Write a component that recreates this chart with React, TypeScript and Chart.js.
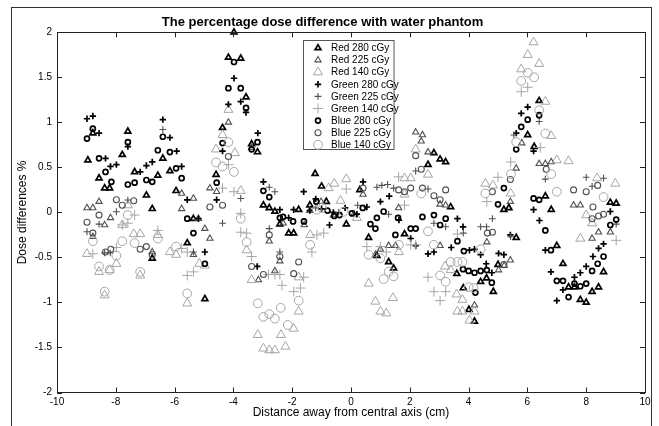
import React, { useEffect, useRef } from "react";
import { Chart, registerables } from "chart.js";
import { drawPoint } from "chart.js/helpers";

Chart.register(...registerables);

const TITLE = "The percentage dose difference with water phantom";
const X_TITLE = "Distance away from central axis (cm)";
const Y_TITLE = "Dose differences %";
const SERIES_LABELS = [
  "Red 280 cGy", "Red 225 cGy", "Red 140 cGy",
  "Green 280 cGy", "Green 225 cGy", "Green 140 cGy",
  "Blue 280 cGy", "Blue 225 cGy", "Blue 140 cGy",
];
const X_TICKS = [-10, -8, -6, -4, -2, 0, 2, 4, 6, 8, 10];
const Y_TICKS = [-2, -1.5, -1, -0.5, 0, 0.5, 1, 1.5, 2];

const red280: [number, number][] = [
  [-8.95,0.58],[-8.78,0.88],[-8.57,0.38],[-8.38,0.27],[-8.21,0.27],[-7.78,0.64],[-7.59,0.9],[-7.36,0.45],
  [-6.96,0.19],[-6.76,0.04],[-6.76,-0.51],[-6.57,0.41],[-6.4,0.6],[-6.16,0.46],[-5.95,0.24],[-5.57,-0.34],[-5.36,-0.07],
  [-4.97,-0.96],[-4.59,0.42],[-4.37,0.94],[-4.17,1.72],[-3.98,2.0],[-3.75,1.71],[-3.57,1.28],[-3.38,0.76],
  [-3.18,0.67],[-2.98,0.08],[-2.78,0.05],[-2.59,0.01],[-2.42,-0.13],[-2.12,-0.23],[-1.95,-0.23],[-1.78,0.03],
  [-1.4,0.08],[-1.22,0.43],[-1.0,0.29],[-0.84,0.12],[-0.16,-0.13],[0.3,0.25],[0.6,-0.28],[0.88,-0.48],
  [1.28,-0.55],[1.45,-0.62],[1.82,-0.24],[2.62,0.53],[2.82,0.66],[3.03,0.59],[3.22,0.56],[3.39,0.06],
  [3.6,-0.68],[3.82,-0.84],[4.01,-1.08],[4.2,-1.21],[4.41,-0.77],[4.61,-0.73],[4.84,-0.88],[5.0,-0.58],
  [5.2,0.03],[5.37,0.05],[5.62,-0.28],[6.01,0.86],[6.23,0.73],[6.4,1.24],[6.61,0.18],[6.81,0.03],
  [7.0,-0.37],[7.21,-0.57],[7.4,-0.83],[7.6,-0.83],[7.8,-0.97],[8.0,-1.0],[8.2,-0.88],[8.42,-0.83],
  [8.59,-0.66],[8.82,0.11],[9.02,0.1],
];
const red225: [number, number][] = [
  [-8.98,0.05],[-8.78,0.05],[-8.78,-0.27],[-8.57,0.12],[-8.38,-0.14],[-8.18,-0.06],[-6.76,-0.44],
  [-5.76,0.21],[-5.76,0.04],[-5.36,0.155],[-5.36,-0.47],[-5.19,-0.07],[-4.97,-0.18],[-4.8,0.27],[-4.8,-0.29],
  [-4.57,0.23],[-4.17,1.0],[-3.38,0.72],[-3.15,-0.75],[-2.78,-0.32],[-2.59,-0.65],[-2.42,-0.54],[-2.31,-0.12],
  [-1.59,-0.14],[-1.4,0.02],[-1.02,0.12],[-0.6,-0.03],[0.1,-0.02],[0.41,0.2],[0.83,-0.47],[1.0,-0.41],
  [1.28,-0.37],[1.51,-0.37],[1.62,0.05],[2.2,0.89],[2.39,0.79],[2.43,0.86],[2.62,0.67],[3.03,-0.37],
  [3.03,0.09],[3.22,0.08],[4.2,-1.03],[4.62,-0.33],[5.02,-0.64],[5.21,-0.59],[5.42,-0.53],[5.42,0.12],
  [5.62,0.49],[5.81,0.77],[6.4,0.54],[6.61,0.54],[6.81,0.56],[7.57,0.08],[7.8,0.08],[8.2,-0.29],
  [8.42,-0.22],[8.82,-0.22],
];
const red140: [number, number][] = [
  [-8.98,-0.46],[-8.57,-0.66],[-8.38,-0.92],[-8.21,-0.64],[-7.98,-0.57],[-7.78,-0.14],[-7.59,0.08],
  [-7.39,-0.24],[-7.17,-0.24],[-7.17,-0.7],[-6.57,-0.25],[-6.16,-0.44],[-5.95,-0.47],[-5.57,-1.01],
  [-5.16,-0.57],[-4.97,-0.59],[-4.59,0.7],[-4.37,0.86],[-4.17,1.14],[-3.95,0.66],[-3.75,0.24],[-3.55,-0.42],
  [-3.38,-0.75],[-3.17,-1.36],[-2.98,-1.51],[-2.78,-1.53],[-2.59,-1.53],[-2.38,-1.36],[-2.23,-1.49],
  [-1.95,-1.29],[-1.78,-1.1],[-1.78,-0.72],[-1.39,-0.25],[-0.76,0.27],[-0.57,0.32],[-0.36,0.13],[-0.16,0.37],
  [0.2,-0.06],[0.6,-0.79],[0.83,-0.99],[1.0,-1.1],[1.2,-1.12],[1.43,-0.95],[1.63,-0.44],[1.82,0.38],
  [1.82,0.2],[2.03,0.38],[2.2,0.7],[2.62,0.42],[3.2,-0.6],[3.39,-0.64],[3.59,-0.91],[3.62,-1.1],
  [3.79,-0.97],[3.79,-1.1],[4.03,-1.2],[4.2,-1.1],[4.57,0.32],[4.83,0.3],[5.43,0.21],[5.79,1.59],
  [6.01,1.75],[6.21,1.89],[6.4,1.65],[6.61,1.23],[6.81,0.85],[7.0,0.58],[7.4,0.57],[7.8,-0.29],
  [8.0,-0.03],[8.2,-0.12],[8.37,0.38],[8.99,0.32],
];
const green280: [number, number][] = [
  [-8.98,1.04],[-8.78,1.07],[-8.57,0.88],[-8.35,0.6],[-8.18,0.51],[-7.98,0.53],[-7.59,0.73],[-7.17,0.45],
  [-6.96,0.52],[-6.76,0.56],[-6.4,1.03],[-6.16,0.83],[-5.93,0.68],[-5.76,0.51],[-5.57,0.14],[-5.19,-0.07],
  [-4.97,-0.44],[-4.57,0.14],[-4.37,0.68],[-4.17,1.2],[-3.98,1.49],[-3.75,1.23],[-3.57,1.11],[-3.19,-0.6],
  [-3.17,0.88],[-2.98,0.34],[-2.42,0.03],[-2.12,-0.06],[-1.95,0.03],[-1.61,0.23],[-1.4,0.02],[-1.2,0.15],
  [-1.0,0.04],[-0.73,-0.14],[-0.6,0.0],[-0.2,0.05],[0.2,-0.02],[0.41,0.34],[0.54,0.06],[1.0,0.12],
  [1.3,0.18],[1.63,-0.085],[2.03,-0.29],[2.2,-0.37],[2.62,-0.46],[2.82,-0.44],[3.41,-0.39],[3.62,-0.07],
  [3.81,-0.16],[4.03,-0.42],[4.2,-0.41],[4.41,-0.47],[4.6,-0.57],[4.79,-0.67],[5.02,-0.455],[5.2,-0.47],
  [5.42,-0.25],[5.62,0.88],[5.79,1.1],[6.01,1.17],[6.21,0.68],[6.21,0.03],[6.41,-0.09],[6.61,-0.42],
  [6.8,-0.66],[7.0,-0.98],[7.21,-0.86],[7.6,-0.72],[7.8,-0.67],[8.0,-0.6],[8.23,-0.49],[8.42,-0.4],
  [8.59,-0.35],[8.82,0.01],
];
const green225: [number, number][] = [
  [-8.98,-0.215],[-8.57,-0.13],[-8.38,-0.45],[-8.19,-0.45],[-7.98,0.007],[-7.59,0.137],[-6.4,0.92],
  [-5.36,-0.44],[-4.37,-0.12],[-3.75,0.155],[-2.78,0.28],[-2.78,-0.18],[-2.59,0.23],[-2.42,-0.44],
  [-1.2,0.05],[-0.42,0.0],[0.225,0.08],[0.88,0.28],[1.05,0.3],[1.245,0.31],[1.28,-0.02],[1.45,0.27],
  [2.2,0.46],[2.62,0.26],[2.82,-0.12],[3.22,-0.16],[3.82,-0.23],[4.41,-0.16],[4.61,-0.16],[4.81,-0.07],
  [5.43,-0.27],[5.54,0.86],[6.4,1.01],[6.61,0.37],[8.0,0.39],[8.2,0.29],[8.59,0.38],[9.02,-0.13],
];
const green140: [number, number][] = [
  [-8.78,-0.46],[-7.98,-0.39],[-7.78,-0.14],[-7.59,-0.12],[-7.36,-0.03],[-6.57,-0.2],[-5.76,-0.4],
  [-5.57,-0.44],[-5.57,-0.7],[-5.36,-0.66],[-4.37,0.27],[-4.17,0.53],[-3.98,0.23],[-3.75,-0.01],
  [-3.75,-0.22],[-3.55,-0.23],[-3.38,-0.49],[-2.81,-0.69],[-2.59,-0.69],[-2.42,-0.69],[-2.35,-0.81],
  [-1.95,-0.88],[-1.72,-0.84],[-1.61,-0.72],[-1.33,-0.44],[-1.16,-0.25],[-0.93,-0.23],[-0.16,0.26],
  [0.54,-0.38],[1.0,-0.38],[1.2,-0.44],[1.62,0.395],[1.82,0.08],[2.03,-0.36],[2.2,-0.36],[2.62,-0.72],
  [2.82,-0.88],[3.03,-0.98],[3.22,-0.88],[3.62,-0.24],[4.62,0.12],[5.0,0.39],[5.43,0.56],[5.79,1.34],
  [6.01,1.39],[6.44,0.72],[9.02,-0.31],
];
const blue280: [number, number][] = [
  [-8.98,0.82],[-8.78,0.93],[-8.57,0.6],[-8.35,0.45],[-8.15,0.34],[-7.59,0.78],[-7.59,0.31],[-7.36,0.33],
  [-6.96,0.36],[-6.76,0.34],[-6.57,0.69],[-6.4,0.84],[-6.16,0.67],[-5.95,0.49],[-5.76,0.38],[-5.57,-0.07],
  [-5.36,-0.23],[-4.97,-0.57],[-4.57,0.33],[-4.37,0.77],[-4.17,1.38],[-3.98,1.67],[-3.75,1.38],[-3.57,1.16],
  [-3.38,0.7],[-3.18,0.78],[-2.98,0.24],[-2.78,0.17],[-2.42,-0.06],[-2.31,-0.05],[-1.97,-0.1],[-1.6,-0.1],
  [-1.18,0.12],[-0.8,0.02],[-0.57,-0.04],[-0.39,-0.03],[0.03,-0.01],[0.4,0.05],[0.66,-0.13],[0.83,-0.18],
  [0.88,-0.06],[1.11,0.01],[1.51,-0.25],[1.6,-0.06],[2.03,-0.18],[2.2,-0.18],[2.43,-0.05],[2.82,-0.03],
  [3.03,-0.14],[3.22,-0.07],[3.62,-0.32],[3.81,-0.63],[3.84,-0.43],[4.0,-0.65],[4.2,-0.67],[4.23,-0.89],
  [4.41,-0.65],[4.62,-0.64],[4.79,-0.78],[5.0,0.09],[5.2,0.27],[5.62,0.7],[5.79,0.95],[6.01,1.03],
  [6.21,0.155],[6.4,1.08],[6.4,0.14],[6.61,-0.2],[6.8,-0.42],[7.0,-0.76],[7.21,-0.76],[7.4,-0.94],
  [7.6,-0.79],[7.8,-0.82],[8.0,-0.79],[8.2,-0.65],[8.39,-0.57],[8.59,-0.49],[8.82,-0.14],[9.02,-0.08],
];
const blue225: [number, number][] = [
  [-8.98,-0.11],[-8.78,-0.23],[-8.57,-0.03],[-8.35,-0.44],[-8.17,-0.41],[-7.98,0.14],[-7.78,0.08],
  [-7.39,0.13],[-7.17,-0.41],[-6.96,-0.38],[-6.76,-0.47],[-4.8,0.06],[-4.37,0.08],[-4.17,0.62],
  [-3.38,-0.6],[-2.98,-0.69],[-2.78,-0.25],[-2.42,-0.49],[-1.95,-0.68],[-1.78,-0.55],[0.41,0.27],
  [1.62,0.25],[1.82,0.23],[2.03,0.27],[2.2,0.63],[2.39,0.48],[2.43,0.27],[2.82,0.185],[3.03,0.14],
  [3.22,0.25],[4.64,-0.23],[4.81,0.23],[4.81,-0.22],[5.2,-0.58],[5.42,0.365],[6.64,0.48],[7.57,0.25],
  [8.0,0.23],[8.2,-0.07],[8.23,0.06],[8.39,0.3],[8.42,-0.04],[8.59,-0.02],
];
const blue140: [number, number][] = [
  [-8.78,-0.32],[-8.57,-0.6],[-8.38,-0.88],[-8.21,-0.64],[-7.98,-0.48],[-7.78,-0.32],[-7.59,-0.03],
  [-7.36,-0.34],[-7.17,-0.66],[-6.57,-0.29],[-5.95,-0.38],[-5.57,-0.9],[-4.59,0.555],[-4.37,0.51],
  [-4.17,0.78],[-3.98,0.45],[-3.75,-0.07],[-3.55,-0.33],[-3.17,-1.01],[-2.98,-1.16],[-2.78,-1.13],
  [-2.59,-1.18],[-2.39,-1.06],[-2.15,-1.25],[-1.78,-0.98],[-1.39,-0.36],[-1.16,0.03],[-0.99,0.05],
  [-0.25,0.007],[0.6,-0.47],[1.0,-0.51],[1.11,-0.74],[1.28,-0.66],[1.45,-0.71],[1.63,-0.36],[2.39,0.21],
  [2.62,-0.21],[2.82,-0.36],[3.03,-0.7],[3.22,-0.77],[3.39,-0.55],[3.62,-0.55],[3.79,-0.55],[4.0,-0.83],
  [4.17,-0.84],[4.41,-0.41],[4.57,0.21],[5.44,0.425],[5.62,0.78],[5.79,1.46],[6.01,1.55],[6.23,1.5],
  [6.4,1.135],[6.61,0.876],[6.81,0.425],[7.0,0.23],[8.59,0.17],
];

const SERIES_DATA = [red280, red225, red140, green280, green225, green140, blue280, blue225, blue140];
const SHAPES = ["triangle", "triangle", "triangle", "cross", "cross", "cross", "circle", "circle", "circle"];

const FONT = "'Liberation Sans Narrow', 'Arial Narrow', 'Liberation Sans', Arial, sans-serif";

// marker appearance per dose level (280, 225, 140)
const LEVEL_STYLE = [
  { color: "#000000", width: 1.7, size: { triangle: 3.4, cross: 3.2, circle: 2.5 } },
  { color: "#505050", width: 1.1, size: { triangle: 3.6, cross: 3.4, circle: 3.0 } },
  { color: "#a6a6a6", width: 1.0, size: { triangle: 5.2, cross: 5.0, circle: 4.4 } },
];

function styleFor(i: number) {
  const lvl = LEVEL_STYLE[i % 3];
  const shape = SHAPES[i];
  return { color: lvl.color, width: lvl.width, radius: (lvl.size as any)[shape], shape };
}

const framePlugin = {
  id: "matlabFrame",
  afterDraw(chart: any) {
    const { ctx, chartArea, scales } = chart;
    const { left, right, top, bottom } = chartArea;
    ctx.save();
    // outer figure frame
    ctx.strokeStyle = "#333";
    ctx.lineWidth = 1;
    ctx.strokeRect(11.5, 7.5, 640, 430);
    // axes box
    ctx.strokeStyle = "#222";
    ctx.strokeRect(Math.round(left) + 0.5, Math.round(top) + 0.5, Math.round(right - left), Math.round(bottom - top));
    // inward ticks
    const tl = 5;
    ctx.beginPath();
    X_TICKS.forEach((v) => {
      const px = Math.round(scales.x.getPixelForValue(v)) + 0.5;
      ctx.moveTo(px, bottom); ctx.lineTo(px, bottom - tl);
      ctx.moveTo(px, top); ctx.lineTo(px, top + tl);
    });
    Y_TICKS.forEach((v) => {
      const py = Math.round(scales.y.getPixelForValue(v)) + 0.5;
      ctx.moveTo(left, py); ctx.lineTo(left + tl, py);
      ctx.moveTo(right, py); ctx.lineTo(right - tl, py);
    });
    ctx.stroke();

    // legend
    const lx = 303.5, ly = 40.5, lw = 90.5, lh = 109;
    ctx.fillStyle = "#ffffff";
    ctx.fillRect(lx, ly, lw, lh);
    ctx.strokeStyle = "#555";
    ctx.strokeRect(lx, ly, lw, lh);
    ctx.font = "10px " + FONT;
    ctx.textBaseline = "middle";
    ctx.textAlign = "left";
    SERIES_LABELS.forEach((lab, i) => {
      const y = 48 + i * 12.1;
      const s = styleFor(i);
      ctx.strokeStyle = s.color;
      ctx.fillStyle = "rgba(0,0,0,0)";
      ctx.lineWidth = s.width;
      drawPoint(ctx, { pointStyle: s.shape, radius: s.radius, borderWidth: s.width, rotation: 0 } as any, 318, y);
      ctx.fillStyle = "#000";
      ctx.fillText(lab, 331, y + 0.5);
    });
    ctx.restore();
  },
};

export default function App() {
  const ref = useRef<HTMLCanvasElement | null>(null);
  useEffect(() => {
    document.body.style.margin = "0";
    const canvas = ref.current!;
    const datasets = SERIES_DATA.map((pts, i) => {
      const s = styleFor(i);
      return {
        label: SERIES_LABELS[i],
        data: pts.map(([x, y]) => ({ x, y })),
        pointStyle: s.shape,
        pointRadius: s.radius,
        pointBorderWidth: s.width,
        borderColor: s.color,
        pointBorderColor: s.color,
        backgroundColor: "rgba(0,0,0,0)",
        pointBackgroundColor: "rgba(0,0,0,0)",
        showLine: false,
        clip: false as any,
        order: 9 - i,
      };
    });
    const chart = new Chart(canvas, {
      type: "scatter",
      data: { datasets },
      options: {
        animation: false,
        responsive: false,
        devicePixelRatio: 1,
        layout: { padding: { left: 0, right: 14, top: 8, bottom: 0 } },
        plugins: {
          legend: { display: false },
          tooltip: { enabled: false },
          title: {
            display: true,
            text: TITLE,
            color: "#000",
            font: { family: FONT, size: 13, weight: "bold", lineHeight: 1.1 },
            padding: { top: 7, bottom: 3 },
          },
        },
        scales: {
          x: {
            type: "linear",
            min: -10,
            max: 10,
            afterBuildTicks: (axis: any) => { axis.ticks = X_TICKS.map((v) => ({ value: v })); },
            afterFit: (axis: any) => { axis.height = 33.5; },
            grid: { display: false, drawTicks: false },
            border: { display: false },
            ticks: { color: "#000", padding: 4, font: { family: FONT, size: 10 }, maxRotation: 0, callback: (v: any) => String(v) },
            title: {
              display: true,
              text: X_TITLE,
              color: "#000",
              font: { family: FONT, size: 12 },
              padding: { top: 0, bottom: 6 },
            },
          },
          y: {
            type: "linear",
            min: -2,
            max: 2,
            afterBuildTicks: (axis: any) => { axis.ticks = Y_TICKS.map((v) => ({ value: v })); },
            afterFit: (axis: any) => { axis.width = 57; },
            grid: { display: false, drawTicks: false },
            border: { display: false },
            ticks: { color: "#000", padding: 5, font: { family: FONT, size: 10 }, callback: (v: any) => String(v) },
            title: {
              display: true,
              text: Y_TITLE,
              color: "#000",
              font: { family: FONT, size: 12 },
              padding: { top: 15, bottom: 0 },
            },
          },
        },
      },
      plugins: [framePlugin],
    });
    return () => chart.destroy();
  }, []);
  return (
    <div style={{ width: 659, height: 426, position: "relative", background: "#fff" }}>
      <canvas ref={ref} width={659} height={426} />
    </div>
  );
}
